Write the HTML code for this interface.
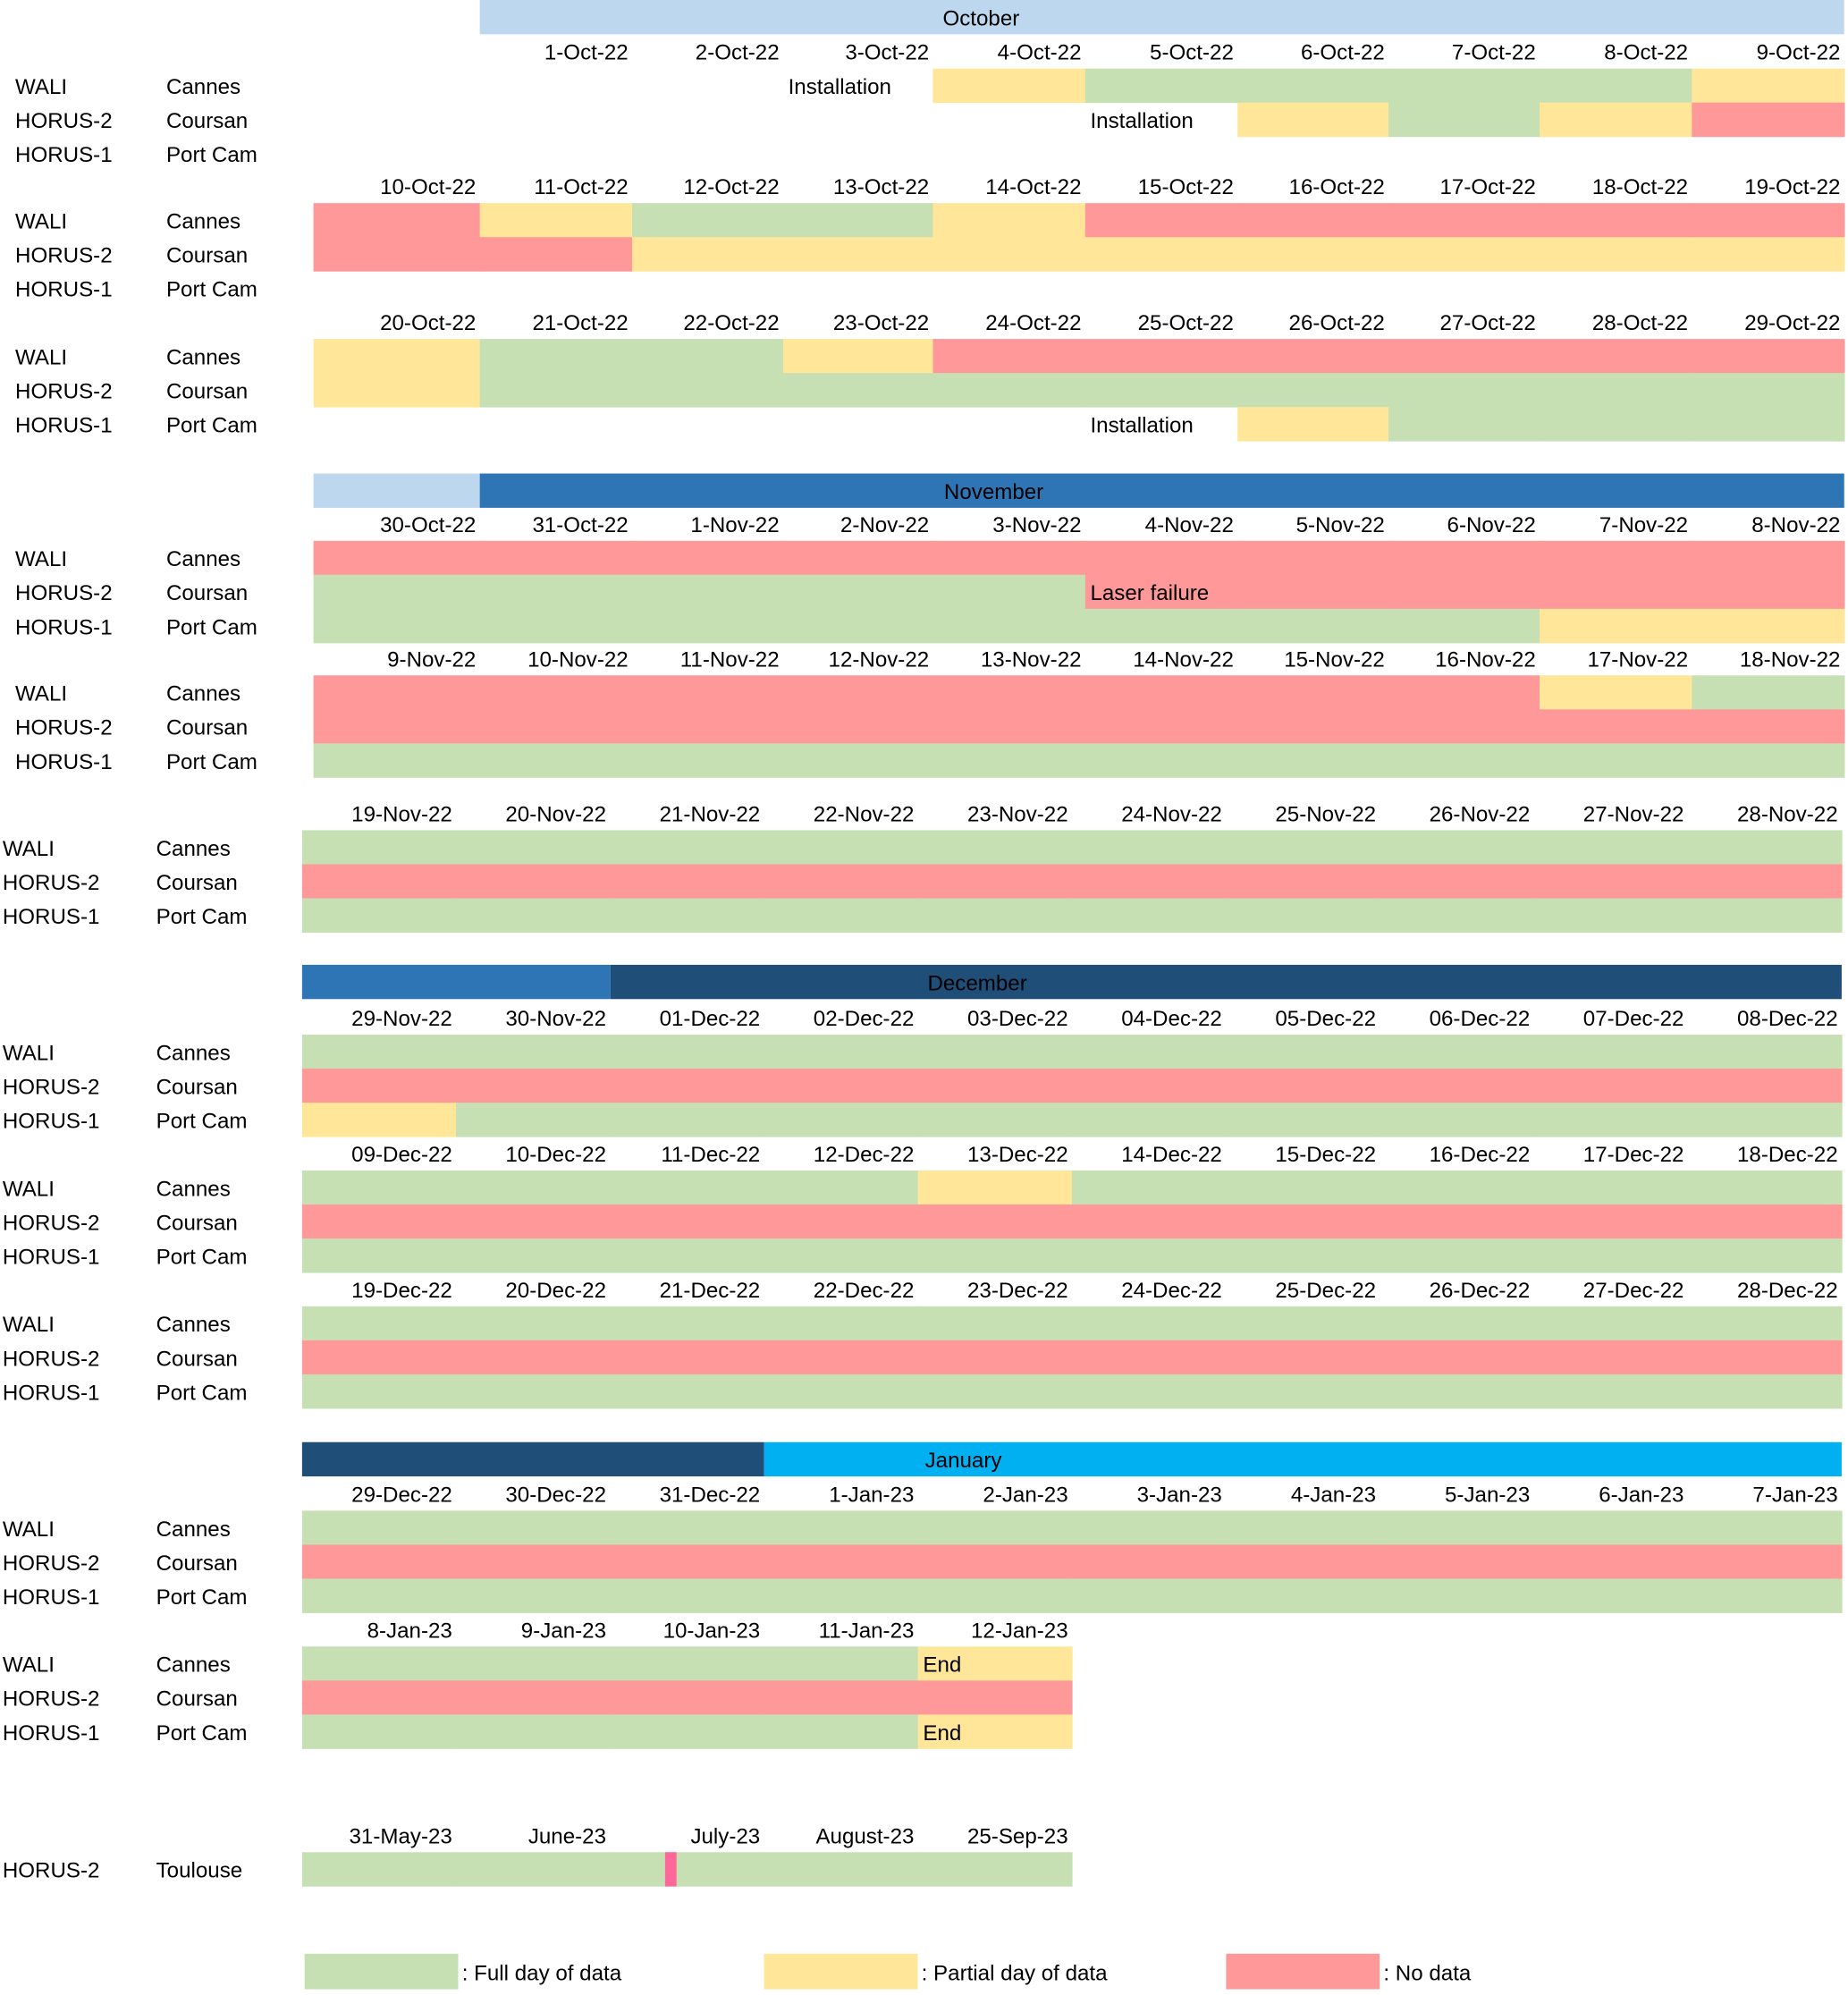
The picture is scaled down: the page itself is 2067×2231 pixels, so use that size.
<!DOCTYPE html>
<html><head><meta charset="utf-8">
<style>
html,body{margin:0;padding:0;background:#fff;}
svg{display:block;}
text{font-family:"Liberation Sans",sans-serif;font-size:17px;fill:#000;}
</style></head>
<body>
<svg id="chart" width="2067" height="2231" viewBox="0 0 1456 1571.5" xmlns="http://www.w3.org/2000/svg"></svg>
<script>
// ---- data ----
const instruments = ["WALI","HORUS-2","HORUS-1"];
const sites = ["Cannes","Coursan","Port Cam"];
const datesA1 = ["","1-Oct-22","2-Oct-22","3-Oct-22","4-Oct-22","5-Oct-22","6-Oct-22","7-Oct-22","8-Oct-22","9-Oct-22"];
const statusA1 = ["....YGGGGY","......YGYR",".........."];
const datesA2 = ["10-Oct-22","11-Oct-22","12-Oct-22","13-Oct-22","14-Oct-22","15-Oct-22","16-Oct-22","17-Oct-22","18-Oct-22","19-Oct-22"];
const statusA2 = ["RYGGYRRRRR","RRYYYYYYYY",".........."];
const datesA3 = ["20-Oct-22","21-Oct-22","22-Oct-22","23-Oct-22","24-Oct-22","25-Oct-22","26-Oct-22","27-Oct-22","28-Oct-22","29-Oct-22"];
const statusA3 = ["YGGYRRRRRR","YGGGGGGGGG","......YGGG"];
const datesA4 = ["30-Oct-22","31-Oct-22","1-Nov-22","2-Nov-22","3-Nov-22","4-Nov-22","5-Nov-22","6-Nov-22","7-Nov-22","8-Nov-22"];
const statusA4 = ["RRRRRRRRRR","GGGGGRRRRR","GGGGGGGGYY"];
const datesA5 = ["9-Nov-22","10-Nov-22","11-Nov-22","12-Nov-22","13-Nov-22","14-Nov-22","15-Nov-22","16-Nov-22","17-Nov-22","18-Nov-22"];
const statusA5 = ["RRRRRRRRYG","RRRRRRRRRR","GGGGGGGGGG"];
const datesB6 = ["19-Nov-22","20-Nov-22","21-Nov-22","22-Nov-22","23-Nov-22","24-Nov-22","25-Nov-22","26-Nov-22","27-Nov-22","28-Nov-22"];
const statusB6 = ["GGGGGGGGGG","RRRRRRRRRR","GGGGGGGGGG"];
const datesB7 = ["29-Nov-22","30-Nov-22","01-Dec-22","02-Dec-22","03-Dec-22","04-Dec-22","05-Dec-22","06-Dec-22","07-Dec-22","08-Dec-22"];
const statusB7 = ["GGGGGGGGGG","RRRRRRRRRR","YGGGGGGGGG"];
const datesB8 = ["09-Dec-22","10-Dec-22","11-Dec-22","12-Dec-22","13-Dec-22","14-Dec-22","15-Dec-22","16-Dec-22","17-Dec-22","18-Dec-22"];
const statusB8 = ["GGGGYGGGGG","RRRRRRRRRR","GGGGGGGGGG"];
const datesB9 = ["19-Dec-22","20-Dec-22","21-Dec-22","22-Dec-22","23-Dec-22","24-Dec-22","25-Dec-22","26-Dec-22","27-Dec-22","28-Dec-22"];
const statusB9 = ["GGGGGGGGGG","RRRRRRRRRR","GGGGGGGGGG"];
const datesB10 = ["29-Dec-22","30-Dec-22","31-Dec-22","1-Jan-23","2-Jan-23","3-Jan-23","4-Jan-23","5-Jan-23","6-Jan-23","7-Jan-23"];
const statusB10 = ["GGGGGGGGGG","RRRRRRRRRR","GGGGGGGGGG"];
const datesB11 = ["8-Jan-23","9-Jan-23","10-Jan-23","11-Jan-23","12-Jan-23"];
const statusB11 = ["GGGGY","RRRRR","GGGGY"];
const datesT = ["31-May-23","June-23","July-23","August-23","25-Sep-23"];
const statusT = ["GGGGG"];
const notes = [ // [block, row, col, text]
  ["A1",0,3,"Installation"],["A1",1,5,"Installation"],["A3",2,5,"Installation"],
  ["A4",1,5,"Laser failure"],["B11",0,4,"End"],["B11",2,4,"End"]];

// ---- layout ----
const NS="http://www.w3.org/2000/svg";
const svg=document.getElementById('chart');
const C={G:"#c6e0b4",Y:"#ffe699",R:"#ff9999"};
const edgesA=[247,378,498,617,735,855,975,1094,1213,1333,1453];
const edgesB=[];for(let i=0;i<=10;i++)edgesB.push(238+i*121.3);
const RH=26.8;
function el(tag,attrs,txt){const e=document.createElementNS(NS,tag);for(const k in attrs)e.setAttribute(k,attrs[k]);if(txt!==undefined)e.textContent=txt;svg.appendChild(e);return e;}
function rect(x,y,w,h,f,name){const r=el('rect',{x:x,y:y,width:w,height:h,fill:f});

return r;}
function txt(x,y,s,anchor,name,fill){const t=el('text',{x:x,y:y,'text-anchor':anchor||'start',fill:fill||'#000'},s);

return t;}

const blocks=[
 {id:"A1",dates:datesA1,st:statusA1,dy:27,e:edgesA,lx:[12,131]},
 {id:"A2",dates:datesA2,st:statusA2,dy:133,e:edgesA,lx:[12,131]},
 {id:"A3",dates:datesA3,st:statusA3,dy:240,e:edgesA,lx:[12,131]},
 {id:"A4",dates:datesA4,st:statusA4,dy:399,e:edgesA,lx:[12,131]},
 {id:"A5",dates:datesA5,st:statusA5,dy:505,e:edgesA,lx:[12,131]},
 {id:"B6",dates:datesB6,st:statusB6,dy:627,e:edgesB,lx:[2,123]},
 {id:"B7",dates:datesB7,st:statusB7,dy:788,e:edgesB,lx:[2,123]},
 {id:"B8",dates:datesB8,st:statusB8,dy:895,e:edgesB,lx:[2,123]},
 {id:"B9",dates:datesB9,st:statusB9,dy:1002,e:edgesB,lx:[2,123]},
 {id:"B10",dates:datesB10,st:statusB10,dy:1163,e:edgesB,lx:[2,123]},
 {id:"B11",dates:datesB11,st:statusB11,dy:1270,e:edgesB,lx:[2,123]},
 {id:"T",dates:datesT,st:statusT,dy:1432,e:edgesB,lx:[2,123],labels:[["HORUS-2","Toulouse"]]}
];

function band(y,segs,label,labelX,labelFill){segs.forEach(s=>rect(s[0],y,s[1]-s[0],27,s[2],'month-band'));
txt(labelX,y+20,label,'middle','month-label-'+label.toLowerCase(),labelFill);}
band(0,[[378,1453,"#bdd7ee"]],"October",773,"#000");
band(373,[[247,378,"#bdd7ee"],[378,1453,"#2e75b6"]],"November",783,"#000");
band(760,[[238,481,"#2e75b6"],[481,1451,"#1f4e79"]],"December",770,"#fff");
band(1136,[[238,602,"#1f4e79"],[602,1451,"#00b0f0"]],"January",759,"#000");

blocks.forEach(b=>{
  b.dates.forEach((d,i)=>{ if(d) txt(b.e[i+1]-3,b.dy+20,d,'end','date-label'); });
  const y0=b.dy+27;
  b.st.forEach((row,r)=>{
    const lab=b.labels?b.labels[r]:[instruments[r],sites[r]];
    txt(b.lx[0],y0+r*RH+20,lab[0],'start','instrument-label');
    txt(b.lx[1],y0+r*RH+20,lab[1],'start','site-label');
    for(let c=0;c<row.length;c++){const s=row[c]; if(C[s]) rect(b.e[c],y0+r*RH,b.e[c+1]-b.e[c]+0.5,RH+0.3,C[s],'status-cell');}
  });
  notes.filter(n=>n[0]===b.id).forEach(n=>txt(b.e[n[2]]+4,y0+n[1]*RH+20,n[3],'start','annotation'));
});
rect(524,1459,9,27,"#ff6699",'toulouse-gap-marker');

const legend=[["G",": Full day of data",240],["Y",": Partial day of data",602],["R",": No data",966]];
legend.forEach(l=>{rect(l[2],1539,121,28,C[l[0]],'legend-swatch');txt(l[2]+124,1560,l[1],'start','legend-entry');});
</script>
</body></html>
